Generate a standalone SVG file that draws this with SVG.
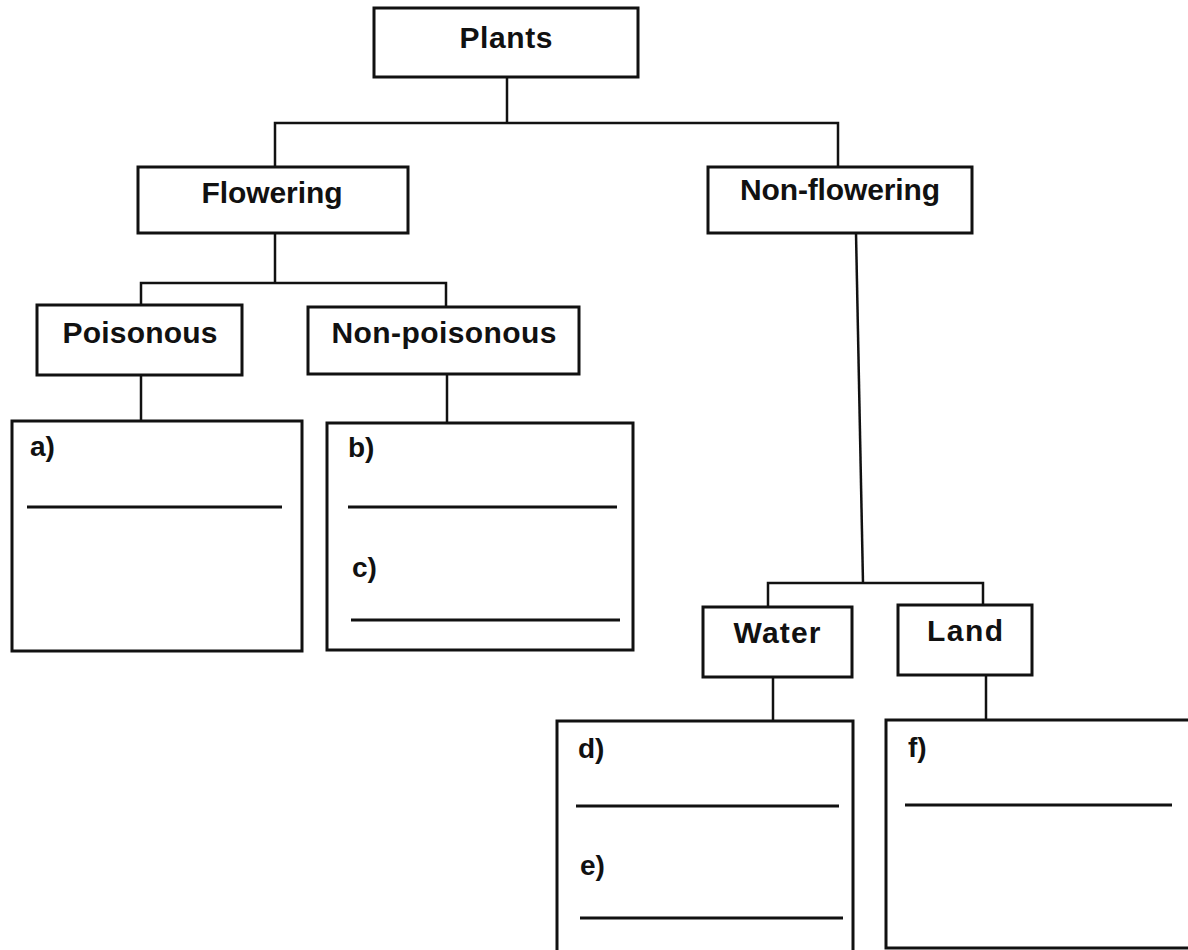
<svg xmlns="http://www.w3.org/2000/svg" width="1188" height="950" viewBox="0 0 1188 950">
<style>
.box{fill:#fff;stroke:#111;stroke-width:3}
.lbl{font-family:"Liberation Sans",Arial,sans-serif;font-weight:bold;font-size:30px;fill:#111;text-anchor:middle}
.ans{font-family:"Liberation Sans",Arial,sans-serif;font-weight:bold;font-size:28px;fill:#111}
.conn{fill:none;stroke:#111;stroke-width:2.5}
.line{stroke:#111;stroke-width:3}
</style>
<rect width="1188" height="950" fill="#fff"/>
<g id="connectors">
<path class="conn" d="M507,77 V123"/>
<path class="conn" d="M275,167 V123 H838 V167"/>
<path class="conn" d="M275,233 V283"/>
<path class="conn" d="M141,305 V283 H446 V307"/>
<path class="conn" d="M141,375 V421"/>
<path class="conn" d="M447,374 V423"/>
<path class="conn" d="M856,233 L863,583"/>
<path class="conn" d="M768,607 V583 H983 V605"/>
<path class="conn" d="M773,677 V721"/>
<path class="conn" d="M986,675 V720"/>
</g>
<g id="plants"><rect class="box" x="374" y="8" width="264" height="69"/><text class="lbl" x="506" y="48" textLength="93" lengthAdjust="spacing">Plants</text></g>
<g id="flowering"><rect class="box" x="138" y="167" width="270" height="66"/><text class="lbl" x="272" y="203" textLength="141" lengthAdjust="spacing">Flowering</text></g>
<g id="non-flowering"><rect class="box" x="708" y="167" width="264" height="66"/><text class="lbl" x="840" y="200" textLength="200" lengthAdjust="spacing">Non-flowering</text></g>
<g id="poisonous"><rect class="box" x="37" y="305" width="205" height="70"/><text class="lbl" x="140" y="343" textLength="155" lengthAdjust="spacing">Poisonous</text></g>
<g id="non-poisonous"><rect class="box" x="308" y="307" width="271" height="67"/><text class="lbl" x="444" y="343" textLength="225" lengthAdjust="spacing">Non-poisonous</text></g>
<g id="water"><rect class="box" x="703" y="607" width="149" height="70"/><text class="lbl" x="777" y="643" textLength="87" lengthAdjust="spacing">Water</text></g>
<g id="land"><rect class="box" x="898" y="605" width="134" height="70"/><text class="lbl" x="965" y="641" textLength="76" lengthAdjust="spacing">Land</text></g>
<g id="box-a"><rect class="box" x="12" y="421" width="290" height="230"/><text class="ans" x="30" y="456">a)</text><line class="line" x1="27" y1="507" x2="282" y2="507"/></g>
<g id="box-bc"><rect class="box" x="327" y="423" width="306" height="227"/><text class="ans" x="348" y="457">b)</text><line class="line" x1="348" y1="507" x2="617" y2="507"/><text class="ans" x="352" y="577">c)</text><line class="line" x1="351" y1="620" x2="620" y2="620"/></g>
<g id="box-de"><rect class="box" x="557" y="721" width="296" height="240"/><text class="ans" x="578" y="758">d)</text><line class="line" x1="576" y1="806" x2="839" y2="806"/><text class="ans" x="580" y="875">e)</text><line class="line" x1="580" y1="918" x2="843" y2="918"/></g>
<g id="box-f"><rect class="box" x="886" y="720" width="310" height="228"/><text class="ans" x="908" y="757">f)</text><line class="line" x1="905" y1="805" x2="1172" y2="805"/></g>
</svg>
